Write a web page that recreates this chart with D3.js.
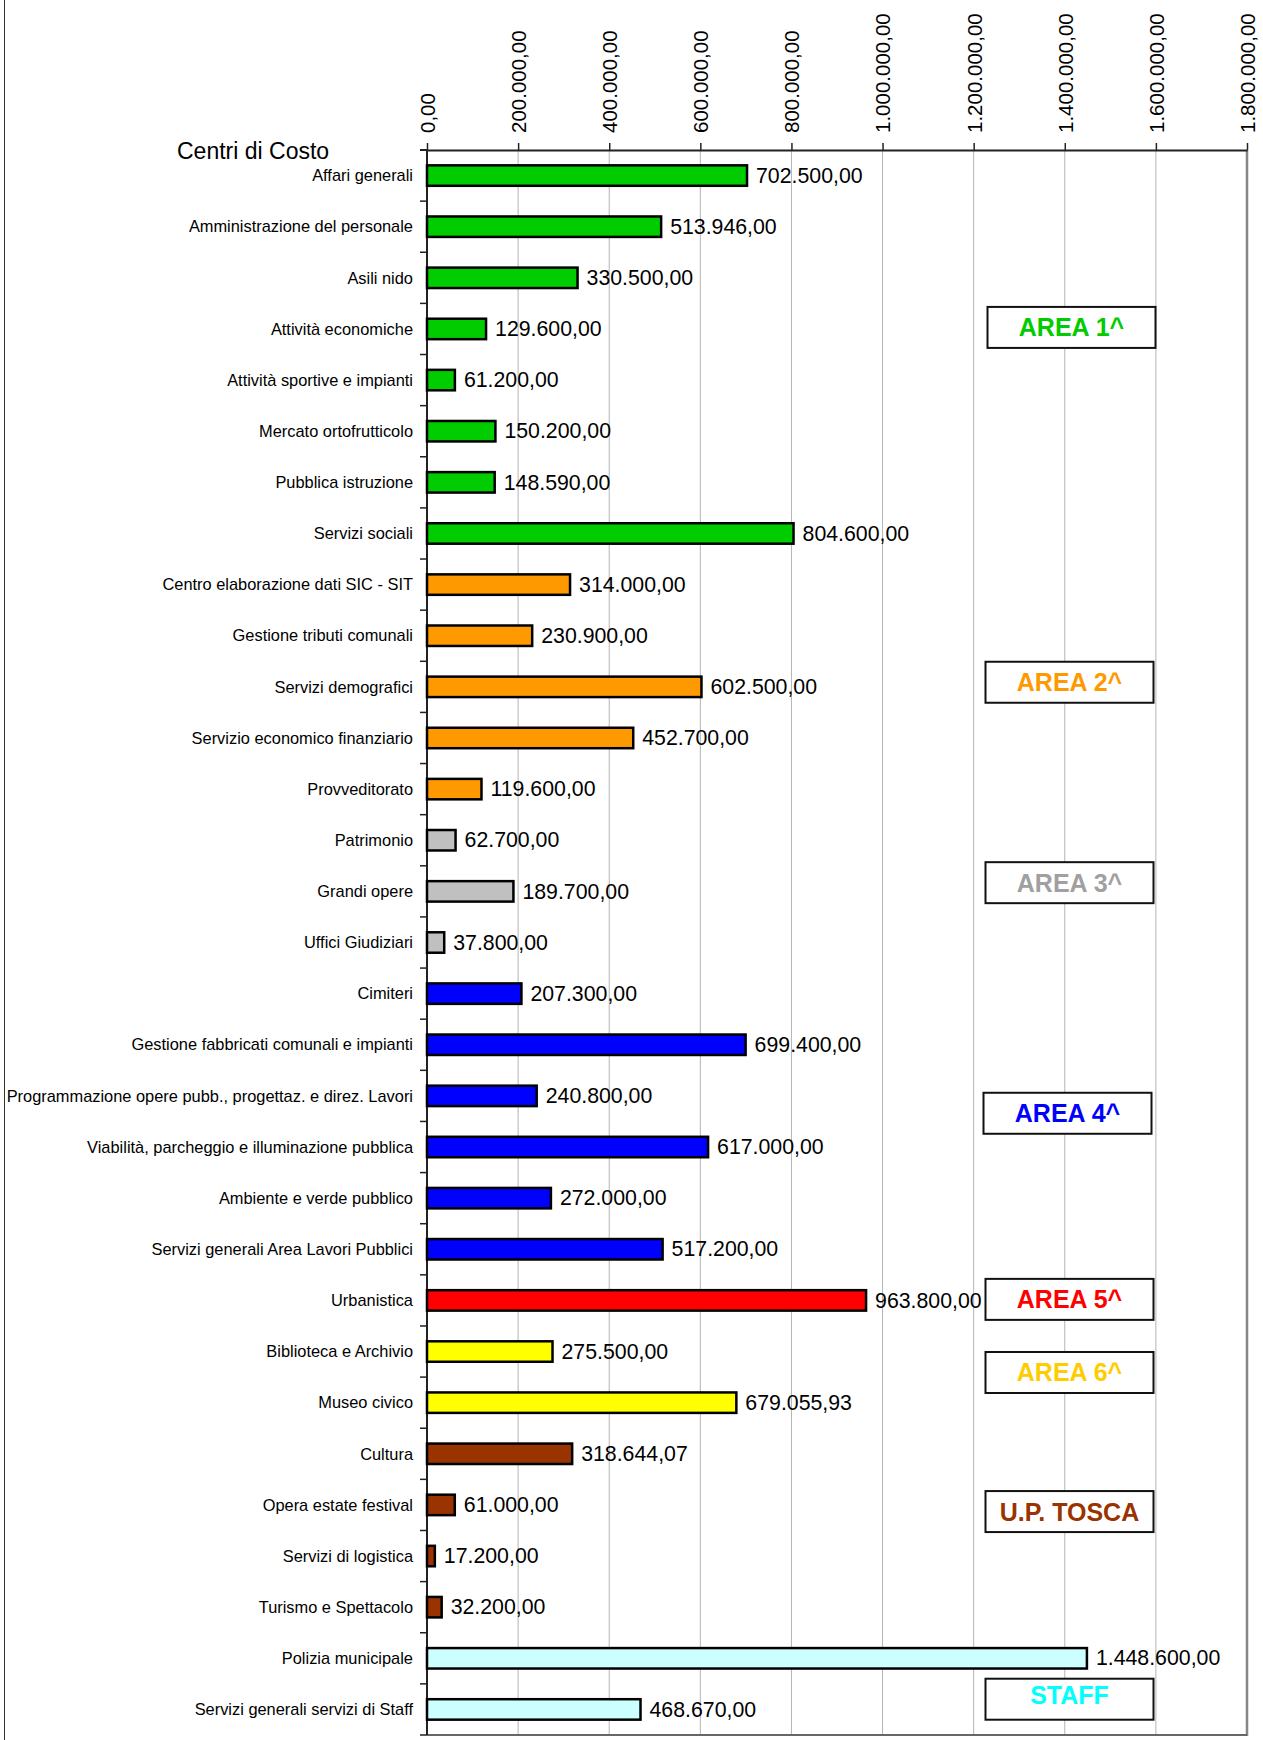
<!DOCTYPE html>
<html>
<head>
<meta charset="utf-8">
<script src="https://cdn.jsdelivr.net/npm/d3@7"></script>
<style>
html,body{margin:0;padding:0;background:#fff;}
svg{display:block;font-family:"Liberation Sans",Arial,Helvetica,sans-serif;}
</style>
</head>
<body>
<svg id="chart" width="1263" height="1740"></svg>
<script>
// ---------- DATA ----------
const categories = [
  "Affari generali",
  "Amministrazione del personale",
  "Asili nido",
  "Attività economiche",
  "Attività sportive e impianti",
  "Mercato ortofrutticolo",
  "Pubblica istruzione",
  "Servizi sociali",
  "Centro elaborazione dati SIC - SIT",
  "Gestione tributi comunali",
  "Servizi demografici",
  "Servizio economico finanziario",
  "Provveditorato",
  "Patrimonio",
  "Grandi opere",
  "Uffici Giudiziari",
  "Cimiteri",
  "Gestione fabbricati comunali e impianti",
  "Programmazione opere pubb., progettaz. e direz. Lavori",
  "Viabilità, parcheggio e illuminazione pubblica",
  "Ambiente e verde pubblico",
  "Servizi generali Area Lavori Pubblici",
  "Urbanistica",
  "Biblioteca e Archivio",
  "Museo civico",
  "Cultura",
  "Opera estate festival",
  "Servizi di logistica",
  "Turismo e Spettacolo",
  "Polizia municipale",
  "Servizi generali servizi di Staff"
];
const values = [
  702500, 513946, 330500, 129600, 61200, 150200, 148590, 804600,
  314000, 230900, 602500, 452700, 119600,
  62700, 189700, 37800,
  207300, 699400, 240800, 617000, 272000, 517200,
  963800,
  275500, 679055.93,
  318644.07, 61000, 17200, 32200,
  1448600, 468670
];
const groupOf = [
  0,0,0,0,0,0,0,0,
  1,1,1,1,1,
  2,2,2,
  3,3,3,3,3,3,
  4,
  5,5,
  6,6,6,6,
  7,7
];
const groupNames = ["AREA 1^","AREA 2^","AREA 3^","AREA 4^","AREA 5^","AREA 6^","U.P. TOSCA","STAFF"];
const tickValues = [0,200000,400000,600000,800000,1000000,1200000,1400000,1600000,1800000];
const axisTitle = "Centri di Costo";

// ---------- STYLE / LAYOUT ----------
const barColors  = ["#00cc00","#ff9900","#c0c0c0","#0000ff","#ff0000","#ffff00","#993300","#ccffff"];
const textColors = ["#00cc00","#ff9900","#a0a0a0","#0000ff","#ff0000","#ffcc00","#993300","#00ffff"];
// legend box vertical position expressed in category slots
const legendSlot = [3.47, 10.41, 14.33, 18.84, 22.48, 23.91, 26.63, 30.3];
const legendDx   = [2, 0, 0, -2, 0, 0, 0, 0];

const W = 1263, H = 1740;
const plot = {left: 427, right: 1247, top: 150, bottom: 1735};

const svg = d3.select("#chart");
const it = d3.formatLocale({decimal: ",", thousands: ".", grouping: [3], currency: ["", ""]});
const fmt = it.format(",.2f");

const x = d3.scaleLinear().domain([0, 1800000]).range([plot.left, plot.right]);
const y = d3.scaleBand().domain(d3.range(categories.length))
  .range([plot.top, plot.bottom]).paddingInner(0.6).paddingOuter(0.3);
const ySlot = d3.scaleLinear().domain([0, categories.length]).range([plot.top, plot.bottom]);

// outer frame left line
svg.append("line").attr("x1", 4.5).attr("x2", 4.5).attr("y1", 0).attr("y2", H)
  .attr("stroke", "#333").attr("stroke-width", 1);

// gridlines
svg.append("g").selectAll("line").data(tickValues.slice(1, -1)).join("line")
  .attr("x1", d => x(d)).attr("x2", d => x(d))
  .attr("y1", plot.top).attr("y2", plot.bottom)
  .attr("stroke", "#b4b4b4").attr("stroke-width", 1);

// right + bottom plot border
svg.append("line").attr("x1", plot.right).attr("x2", plot.right)
  .attr("y1", plot.top).attr("y2", plot.bottom + 1)
  .attr("stroke", "#858585").attr("stroke-width", 2.5);
svg.append("line").attr("x1", plot.left).attr("x2", plot.right)
  .attr("y1", plot.bottom).attr("y2", plot.bottom)
  .attr("stroke", "#666").attr("stroke-width", 2);

// top axis
const xAxis = d3.axisTop(x).tickValues(tickValues).tickFormat(fmt).tickSize(7).tickSizeOuter(0);
const gx = svg.append("g").attr("transform", `translate(0,${plot.top})`).call(xAxis);
gx.select(".domain").attr("stroke", "#222").attr("stroke-width", 2);
gx.selectAll(".tick line").attr("stroke", "#222").attr("stroke-width", 1.5);
gx.selectAll(".tick text")
  .attr("transform", "rotate(-90)")
  .attr("x", 17).attr("y", 0).attr("dy", "0.36em")
  .attr("text-anchor", "start")
  .attr("font-size", 20.5).attr("fill", "#000")
  .attr("font-family", "'Liberation Sans',Arial,sans-serif");
// extension of top axis line to the left
svg.append("line").attr("x1", plot.left - 7).attr("x2", plot.left)
  .attr("y1", plot.top).attr("y2", plot.top).attr("stroke", "#222").attr("stroke-width", 2);

// left axis line and band ticks
svg.append("line").attr("x1", plot.left).attr("x2", plot.left)
  .attr("y1", plot.top).attr("y2", plot.bottom).attr("stroke", "#222").attr("stroke-width", 2);
svg.append("g").selectAll("line").data(d3.range(categories.length + 1)).join("line")
  .attr("x1", plot.left - 7).attr("x2", plot.left)
  .attr("y1", d => ySlot(d)).attr("y2", d => ySlot(d))
  .attr("stroke", "#222").attr("stroke-width", 1.5);

// title
svg.append("text").attr("x", 177).attr("y", 159)
  .attr("font-size", 23).attr("fill", "#000").text(axisTitle);

// category labels
svg.append("g").selectAll("text").data(categories).join("text")
  .attr("x", plot.left - 14)
  .attr("y", (d, i) => y(i) + y.bandwidth() / 2)
  .attr("dy", "0.35em")
  .attr("text-anchor", "end")
  .attr("font-size", 16.4).attr("fill", "#000")
  .text(d => d);

// bars
svg.append("g").selectAll("rect").data(values).join("rect")
  .attr("x", x(0))
  .attr("y", (d, i) => y(i))
  .attr("width", d => x(d) - x(0))
  .attr("height", y.bandwidth())
  .attr("fill", (d, i) => barColors[groupOf[i]])
  .attr("stroke", "#000").attr("stroke-width", 2.5);

// value labels
svg.append("g").selectAll("text").data(values).join("text")
  .attr("x", d => x(d) + 9)
  .attr("y", (d, i) => y(i) + y.bandwidth() / 2 - 0.5)
  .attr("dy", "0.36em")
  .attr("font-size", 21.3).attr("fill", "#000")
  .text(d => fmt(d));

// group legend boxes
const boxW = 168, boxH = 41, boxX = 985.5;
const lg = svg.append("g").selectAll("g").data(groupNames).join("g")
  .attr("transform", (d, i) => `translate(${boxX + legendDx[i]},${ySlot(legendSlot[i]) - boxH / 2})`);
lg.append("rect").attr("width", boxW).attr("height", boxH)
  .attr("fill", "#fff").attr("stroke", "#111").attr("stroke-width", 2);
lg.append("text").attr("x", boxW / 2).attr("y", (d, i) => i === 7 ? boxH / 2 - 4 : boxH / 2)
  .attr("dy", "0.36em").attr("text-anchor", "middle")
  .attr("font-size", 25).attr("font-weight", "bold")
  .attr("fill", (d, i) => textColors[i])
  .text(d => d);
</script>
</body>
</html>
